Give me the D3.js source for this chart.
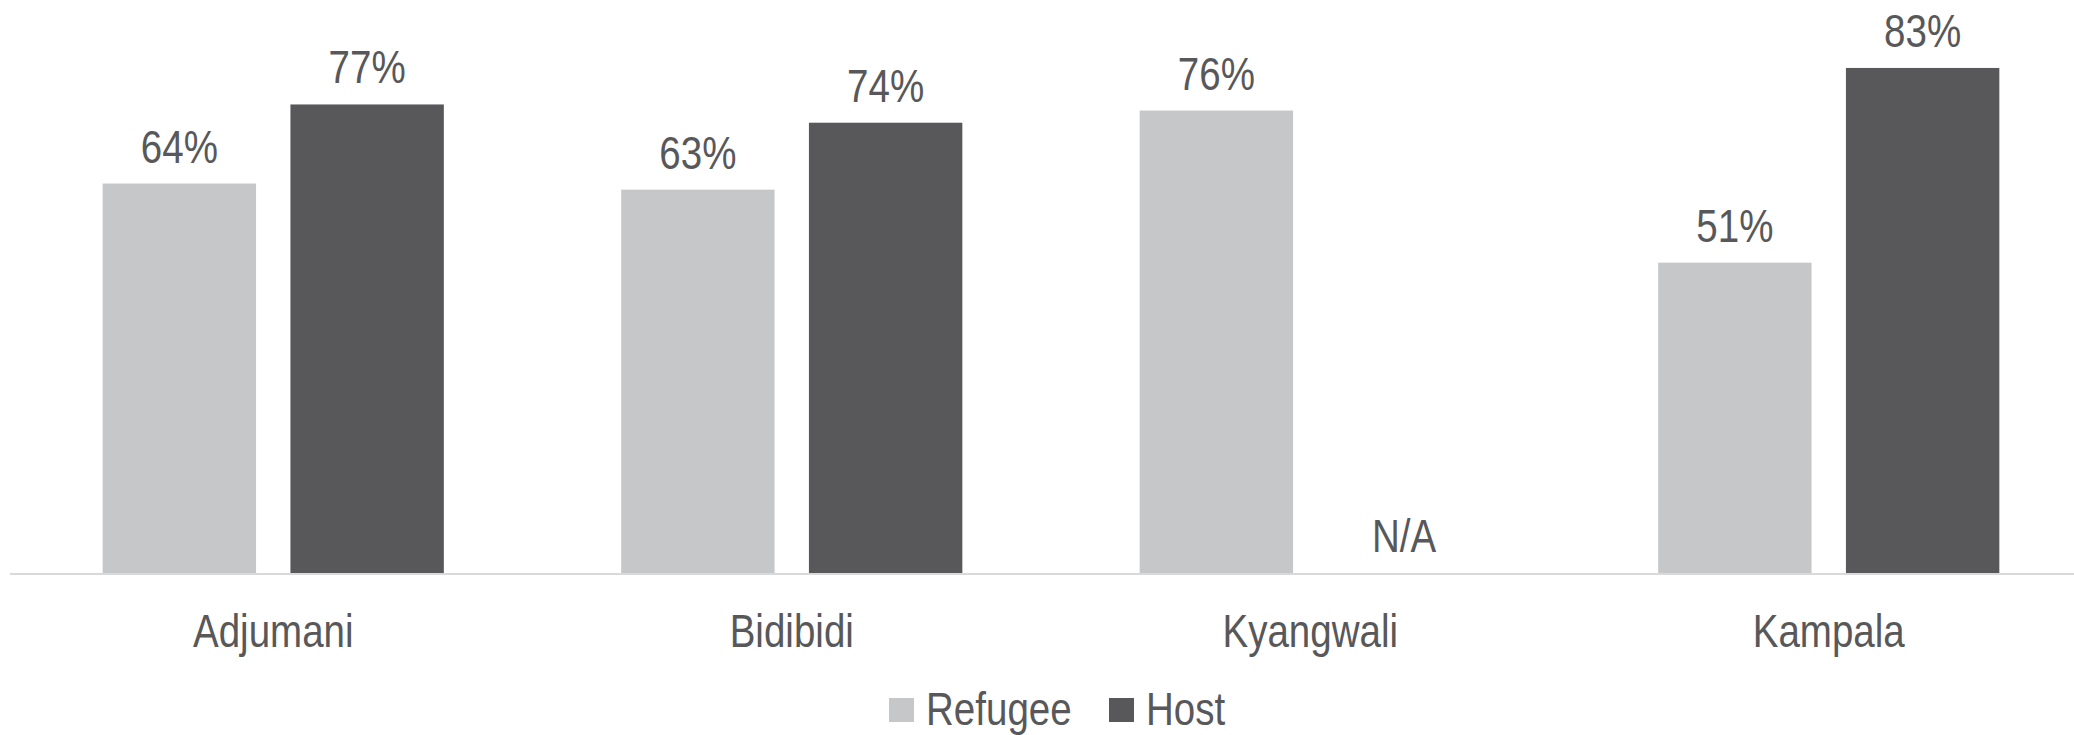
<!DOCTYPE html>
<html>
<head>
<meta charset="utf-8">
<script src="https://cdn.jsdelivr.net/npm/d3@7"></script>
<style>
  html, body { margin: 0; padding: 0; background: #ffffff; }
  svg { display: block; }
  text { font-family: "Liberation Sans", Arial, sans-serif; fill: #58585a; }
</style>
</head>
<body>
<svg id="chart" width="2074" height="735"></svg>
<script>
// Sites and the two population groups
const categories = ["Adjumani", "Bidibidi", "Kyangwali", "Kampala"];
const seriesNames = ["Refugee", "Host"];
const refugeeValues = [64, 63, 76, 51];
const hostValues = [77, 74, null, 83];   // no host data for Kyangwali
const missingLabel = "N/A";
const seriesColors = ["#c6c7c9", "#58585a"];

const W = 2074, H = 735;
const baseY = 573;
const narrow = 0.82;   // horizontal squeeze for a narrow typeface look
const svg = d3.select("#chart");

const rows = categories.map((c, i) => ({
  category: c,
  values: [
    { series: seriesNames[0], value: refugeeValues[i] },
    { series: seriesNames[1], value: hostValues[i] }
  ]
}));

const x0 = d3.scaleBand()
  .domain(categories)
  .range([14, 2088])
  .paddingInner(0.342)
  .paddingOuter(0.171);

const x1 = d3.scaleBand()
  .domain(seriesNames)
  .range([0, x0.bandwidth()])
  .paddingInner(0.183)
  .paddingOuter(0);

const y = d3.scaleLinear()
  .domain([0, 100])
  .range([baseY, baseY - 608.5]);

const color = d3.scaleOrdinal().domain(seriesNames).range(seriesColors);

// Bars
const groups = svg.append("g")
  .selectAll("g")
  .data(rows)
  .join("g")
  .attr("transform", d => `translate(${x0(d.category)},0)`);

groups.selectAll("rect")
  .data(d => d.values.filter(v => v.value != null))
  .join("rect")
  .attr("x", d => x1(d.series))
  .attr("y", d => y(d.value))
  .attr("width", x1.bandwidth())
  .attr("height", d => y(0) - y(d.value))
  .attr("fill", d => color(d.series));

// Value labels (N/A where there is no bar)
groups.selectAll("text.value")
  .data(d => d.values)
  .join("text")
  .attr("class", "value")
  .attr("transform", d => {
    const cx = x1(d.series) + x1.bandwidth() / 2;
    const cy = y(d.value == null ? 0 : d.value) - 21;
    return `translate(${cx},${cy}) scale(${narrow},1)`;
  })
  .attr("text-anchor", "middle")
  .attr("font-size", 47)
  .text(d => d.value == null ? missingLabel : d.value + "%");

// Category axis
const xAxis = svg.append("g")
  .attr("transform", `translate(0,${baseY})`)
  .call(d3.axisBottom(x0).tickSize(0).tickPadding(0));
xAxis.select(".domain").remove();
xAxis.selectAll(".tick text")
  .attr("y", 0)
  .attr("dy", 0)
  .attr("transform", `translate(0,74) scale(${narrow},1)`)
  .attr("font-size", 47)
  .attr("font-family", null)
  .attr("fill", null);

svg.append("line")
  .attr("x1", 10).attr("x2", W)
  .attr("y1", baseY + 1).attr("y2", baseY + 1)
  .attr("stroke", "#d9d9d9")
  .attr("stroke-width", 2);

// Legend
const legend = svg.append("g");
const legendX = [889, 1109];
seriesNames.forEach((s, i) => {
  const g = legend.append("g").attr("transform", `translate(${legendX[i]},698)`);
  g.append("rect").attr("width", 25).attr("height", 24).attr("fill", color(s));
  g.append("text")
    .attr("transform", `translate(37,27) scale(${narrow},1)`)
    .attr("font-size", 47)
    .text(s);
});
</script>
</body>
</html>
